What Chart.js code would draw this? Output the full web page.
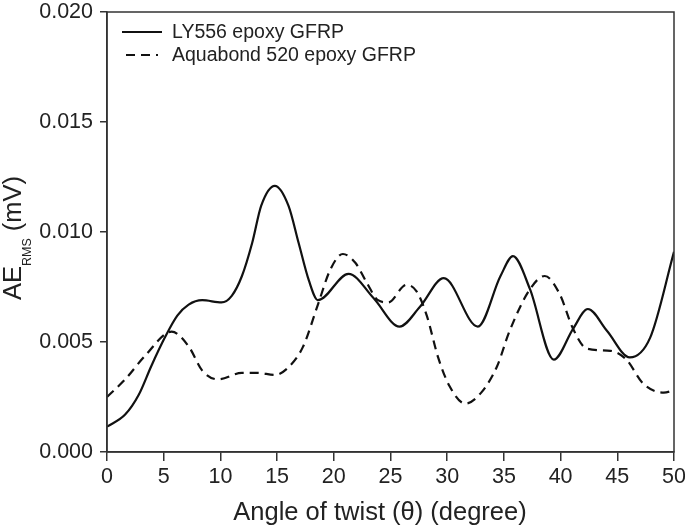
<!DOCTYPE html>
<html><head><meta charset="utf-8">
<script src="https://cdn.jsdelivr.net/npm/chart.js@4"></script>
<style>html,body{margin:0;padding:0;background:#fff}#wrap{width:685px;height:526px;position:relative}</style>
</head><body><div id="wrap"><canvas id="c" width="685" height="526"></canvas></div>
<script>
// ---- data ----
const seriesNames = ['LY556 epoxy GFRP', 'Aquabond 520 epoxy GFRP'];
const ly556X = [0, 1.6, 2.8, 3.9, 5.1, 6.2, 7.2, 8.4, 10.1, 11.0, 11.9, 12.8, 13.6, 14.8, 16.0, 16.9, 17.8, 18.6, 21.3, 23.5, 25.8, 27.6, 29.7, 32.7, 34.7, 35.8, 37.3, 39.4, 41.1, 42.4, 44.1, 46.1, 47.9, 50];
const ly556Y = [0.00115, 0.0017, 0.0026, 0.0039, 0.0052, 0.0062, 0.0067, 0.0069, 0.0068, 0.0071, 0.0080, 0.0095, 0.0112, 0.0121, 0.0112, 0.0095, 0.0078, 0.0069, 0.0081, 0.0070, 0.0057, 0.0066, 0.0079, 0.0057, 0.0080, 0.0089, 0.0074, 0.0042, 0.0056, 0.0065, 0.0055, 0.0043, 0.0052, 0.0091];
const aquaX = [0, 1.6, 3.4, 5.7, 7.2, 8.4, 9.8, 11.9, 13.3, 14.8, 16.1, 17.3, 18.6, 19.7, 20.8, 21.9, 22.9, 23.9, 24.8, 26.4, 27.3, 28.2, 29.2, 30.2, 31.6, 33.0, 34.4, 35.5, 37.3, 38.6, 39.9, 41.1, 42.3, 44.4, 45.8, 47.3, 49.1, 50];
const aquaY = [0.0025, 0.0033, 0.0044, 0.00547, 0.0048, 0.0037, 0.0033, 0.0036, 0.0036, 0.0035, 0.0039, 0.0048, 0.0067, 0.0083, 0.0090, 0.0086, 0.0077, 0.0069, 0.0068, 0.0076, 0.0073, 0.0062, 0.0043, 0.0030, 0.0022, 0.0027, 0.0039, 0.0055, 0.0074, 0.0080, 0.0072, 0.0056, 0.0047, 0.0046, 0.0042, 0.0031, 0.0027, 0.0028];
const xTicks = [0, 5, 10, 15, 20, 25, 30, 35, 40, 45, 50];
const yTicks = [0.000, 0.005, 0.010, 0.015, 0.020];
const xTitle = 'Angle of twist (\u03B8) (degree)';
const yTitleMain = 'AE', yTitleSub = 'RMS', yTitleUnit = ' (mV)';

const FONT = '"Liberation Sans", Arial, sans-serif';
const INK = '#222';
const AX = '#333';

const toPts = (xs, ys) => xs.map((x, i) => ({x, y: ys[i]}));

const framePlugin = {
  id: 'frame',
  afterDraw(chart) {
    const {ctx, chartArea: a} = chart;
    ctx.save();
    ctx.strokeStyle = AX; ctx.lineWidth = 1.5;
    ctx.strokeRect(a.left, a.top, a.right - a.left, a.bottom - a.top);
    // legend
    const items = chart.data.datasets;
    const lx0 = 122, lx1 = 162, tx = 172;
    const rows = [32, 55];
    ctx.font = '19.5px ' + FONT;
    ctx.textBaseline = 'middle';
    ctx.fillStyle = INK;
    items.forEach((ds, i) => {
      ctx.beginPath();
      ctx.setLineDash(ds.borderDash || []);
      ctx.lineWidth = ds.borderWidth;
      ctx.strokeStyle = ds.borderColor;
      if (ds.borderDash && ds.borderDash.length) {
        ctx.moveTo(lx0 + 4, rows[i]); ctx.lineTo(lx1 - 4, rows[i]);
      } else {
        ctx.moveTo(lx0, rows[i]); ctx.lineTo(lx1, rows[i]);
      }
      ctx.stroke();
      ctx.setLineDash([]);
      ctx.fillText(ds.label, tx, rows[i] + 1);
    });
    const big = '25.5px ' + FONT, small = '12.5px ' + FONT;
    // x title
    ctx.font = big;
    ctx.textAlign = 'center';
    ctx.textBaseline = 'alphabetic';
    ctx.fillText(xTitle, 380, 520);
    // y title with subscript
    ctx.save();
    ctx.translate(21, 238);
    ctx.rotate(-Math.PI / 2);
    ctx.textBaseline = 'alphabetic';
    ctx.textAlign = 'left';
    ctx.font = big; const w1 = ctx.measureText(yTitleMain).width; const w3 = ctx.measureText(yTitleUnit).width;
    ctx.font = small; const w2 = ctx.measureText(yTitleSub).width;
    let x = -(w1 + w2 + w3) / 2;
    ctx.fillStyle = INK;
    ctx.font = big; ctx.fillText(yTitleMain, x, 0); x += w1;
    ctx.font = small; ctx.fillText(yTitleSub, x, 10); x += w2;
    ctx.font = big; ctx.fillText(yTitleUnit, x, 0);
    ctx.restore();
    ctx.restore();
  }
};

new Chart(document.getElementById('c'), {
  type: 'line',
  data: {
    datasets: [
      {label: seriesNames[0], data: toPts(ly556X, ly556Y), borderColor: '#111', borderWidth: 2.2, borderDash: [], pointRadius: 0, cubicInterpolationMode: 'monotone', fill: false},
      {label: seriesNames[1], data: toPts(aquaX, aquaY), borderColor: '#111', borderWidth: 2.2, borderDash: [9, 6], pointRadius: 0, cubicInterpolationMode: 'monotone', fill: false}
    ]
  },
  options: {
    responsive: false, animation: false, devicePixelRatio: 1,
    layout: {padding: {left: 0, right: 11, top: 12, bottom: 0}},
    plugins: {legend: {display: false}, tooltip: {enabled: false}},
    scales: {
      x: {
        type: 'linear', min: 0, max: 50,
        afterBuildTicks: s => { s.ticks = xTicks.map(v => ({value: v})); },
        afterFit: s => { s.height = 74; s.paddingLeft = 0; s.paddingRight = 0; },
        ticks: {font: {family: FONT, size: 21.5}, color: INK, padding: 3, maxRotation: 0, callback: v => String(v)},
        grid: {drawOnChartArea: false, drawTicks: true, tickLength: 9, color: AX, lineWidth: 1.5},
        border: {display: true, color: AX, width: 1.5},
        title: {display: false}
      },
      y: {
        type: 'linear', min: 0, max: 0.02,
        afterBuildTicks: s => { s.ticks = yTicks.map(v => ({value: v})); },
        afterFit: s => { s.width = 107; s.paddingTop = 0; s.paddingBottom = 0; },
        ticks: {font: {family: FONT, size: 21.5}, color: INK, padding: 7, callback: v => v.toFixed(3)},
        grid: {drawOnChartArea: false, drawTicks: true, tickLength: 7, color: AX, lineWidth: 1.5},
        border: {display: true, color: AX, width: 1.5}
      }
    }
  },
  plugins: [framePlugin]
});
</script>
</body></html>
